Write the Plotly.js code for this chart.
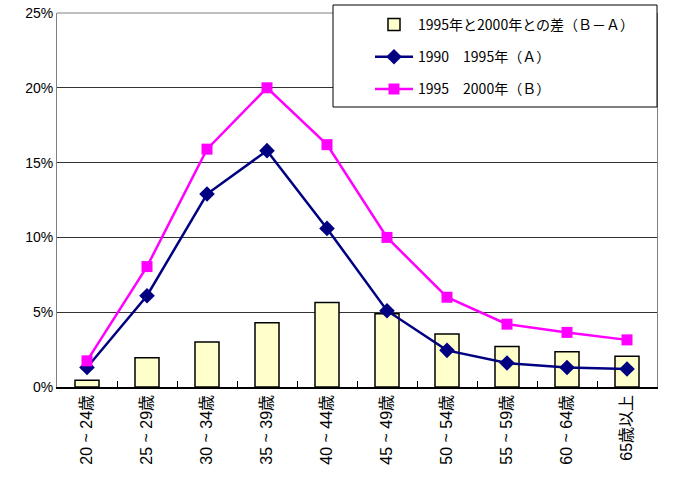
<!DOCTYPE html>
<html><head><meta charset="utf-8">
<script src="https://cdn.plot.ly/plotly-3.0.1.min.js"></script>
<style>html,body{margin:0;padding:0;background:#fff}#chart{width:673px;height:480px}</style>
</head><body><div id="chart"></div>
<script>
const categories = ["20 ~ 24歳","25 ~ 29歳","30 ~ 34歳","35 ~ 39歳","40 ~ 44歳","45 ~ 49歳","50 ~ 54歳","55 ~ 59歳","60 ~ 64歳","65歳以上"];
const seriesA = [1.3, 6.1, 12.9, 15.8, 10.6, 5.1, 2.45, 1.6, 1.3, 1.2];
const seriesB = [1.75, 8.05, 15.9, 20.0, 16.2, 10.0, 6.0, 4.2, 3.65, 3.15];
const diffBA = [0.45, 1.95, 3.0, 4.3, 5.65, 4.9, 3.55, 2.7, 2.35, 2.05];
const nameDiff = "1995年と2000年との差（Ｂ－Ａ）";
const nameA = "1990　1995年（Ａ）";
const nameB = "1995　2000年（Ｂ）";
const yTicks = [0,5,10,15,20,25];
const yTickText = ["0%","5%","10%","15%","20%","25%"];

const font = "Arial, 'Liberation Sans', 'Noto Sans CJK JP', sans-serif";
const traces = [
 {type:'bar', x:categories, y:diffBA, name:nameDiff, width:0.4, legendgroup:'g1',
  marker:{color:'#FFFFCC', line:{color:'#000', width:1.5}}},
 {type:'scatter', mode:'lines+markers', x:categories, y:seriesA, name:nameA, legendgroup:'g2',
  line:{color:'#000080', width:2.5}, marker:{symbol:'diamond', size:12, color:'#000080'}},
 {type:'scatter', mode:'lines+markers', x:categories, y:seriesB, name:nameB, legendgroup:'g3',
  line:{color:'#FF00FF', width:2.5}, marker:{symbol:'square', size:11, color:'#FF00FF'}}
];
const layout = {
 width:673, height:480,
 margin:{l:57, r:16, t:13, b:93, autoexpand:false},
 paper_bgcolor:'#fff', plot_bgcolor:'#fff',
 font:{family:font, size:14, color:'#000'},
 showlegend:true,
 legend:{x:(370-57)/600, xanchor:'left', yref:'container', y:1-9/480, yanchor:'top', bgcolor:'rgba(0,0,0,0)', borderwidth:0,
   itemwidth:38, font:{family:"'Noto Sans CJK JP', sans-serif", size:14}, traceorder:'grouped', tracegroupgap:11},
 xaxis:{type:'category', range:[-0.5, 9.5], tickangle:-90, showline:true, linecolor:'#000', linewidth:1.5, automargin:false,
   ticks:'inside', ticklen:6, tickcolor:'#000', tickson:'boundaries', showgrid:false,
   tickfont:{family:"Arial, 'Liberation Sans', 'Noto Sans CJK JP', sans-serif", size:16}, fixedrange:true},
 yaxis:{range:[0,25], tickvals:yTicks, ticktext:yTickText, showline:true, linecolor:'#808080', linewidth:1, mirror:true,
   automargin:false, showgrid:true, gridcolor:'#333', gridwidth:1, zeroline:false, ticks:'',
   tickfont:{family:font, size:14}},
 shapes:[
  {type:'line', xref:'paper', yref:'paper', x0:0, x1:1, y0:1, y1:1, line:{color:'#808080', width:1}},
  {type:'rect', xref:'x domain', yref:'y domain', x0:276/600, x1:1, y0:1-(107-13)/374, y1:1+8/374,
   fillcolor:'#fff', line:{color:'#000', width:1}, layer:'above'}
 ],
 bargap:0.6
};
Plotly.newPlot('chart', traces, layout, {displayModeBar:false, staticPlot:true});
</script></body></html>
